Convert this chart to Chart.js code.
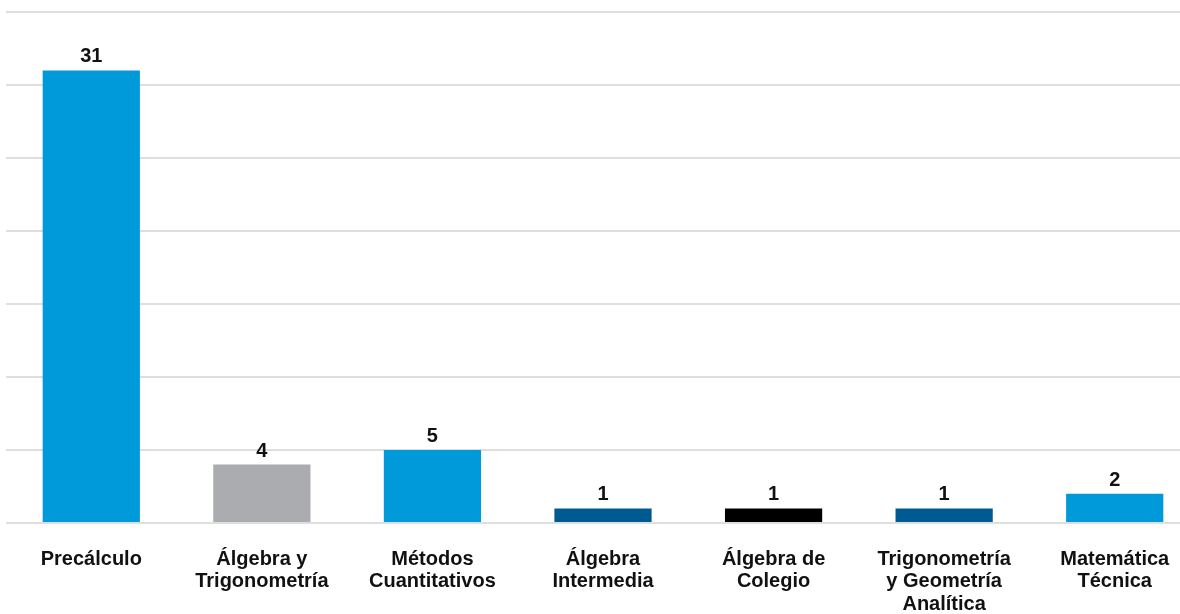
<!DOCTYPE html>
<html lang="es">
<head>
<meta charset="utf-8">
<title>Cursos de matemáticas</title>
<script src="https://cdn.jsdelivr.net/npm/chart.js@4/dist/chart.umd.min.js"></script>
<style>
    html, body {
        margin: 0;
        padding: 0;
        background: #ffffff;
        overflow: hidden;
    }
    .chart-wrap {
        position: relative;
        width: 1200px;
        height: 614px;
    }
</style>
</head>
<body>
<div class="chart-wrap">
    <canvas id="coursesChart"></canvas>
</div>
<script>
// ======================
// Data
// ======================
const courseLabels = [
    'Precálculo',
    ['Álgebra y', 'Trigonometría'],
    ['Métodos', 'Cuantitativos'],
    ['Álgebra', 'Intermedia'],
    ['Álgebra de', 'Colegio'],
    ['Trigonometría', 'y Geometría', 'Analítica'],
    ['Matemática', 'Técnica']
];
const courseCounts = [31, 4, 5, 1, 1, 1, 2];
const barColors = ['#009ADA', '#ABACAF', '#009ADA', '#005A92', '#000000', '#005A92', '#009ADA'];
const yTicks = { min: 0, max: 35, step: 5 };

const FONT = '"Liberation Sans", Arial, sans-serif';

// ======================
// Value labels above bars
// ======================
const valueLabels = {
    id: 'valueLabels',
    afterDatasetsDraw(chart) {
        const ctx = chart.ctx;
        const meta = chart.getDatasetMeta(0);
        ctx.save();
        ctx.font = 'bold 20px ' + FONT;
        ctx.fillStyle = '#111111';
        ctx.textAlign = 'center';
        ctx.textBaseline = 'alphabetic';
        meta.data.forEach(function (bar, i) {
            ctx.fillText(String(courseCounts[i]), bar.x, bar.y - 8);
        });
        ctx.restore();
    }
};

// ======================
// Chart
// ======================
const canvas = document.getElementById('coursesChart');

new Chart(canvas, {
    type: 'bar',
    data: {
        labels: courseLabels,
        datasets: [{
            data: courseCounts,
            backgroundColor: barColors,
            borderWidth: 0,
            barPercentage: 0.57,
            categoryPercentage: 1
        }]
    },
    options: {
        responsive: true,
        maintainAspectRatio: false,
        animation: false,
        layout: {
            padding: { left: 6, top: 12, right: 0, bottom: 0 }
        },
        scales: {
            x: {
                grid: { display: false, drawTicks: false },
                border: { display: false },
                afterFit(scale) {
                    scale.height = 91;
                },
                ticks: {
                    color: '#111111',
                    padding: 25,
                    maxRotation: 0,
                    autoSkip: false,
                    font: { size: 20, weight: 'bold', family: FONT, lineHeight: 1.12 }
                }
            },
            y: {
                min: yTicks.min,
                max: yTicks.max,
                border: { display: false },
                grid: {
                    color: '#dedede',
                    lineWidth: 2,
                    drawTicks: false
                },
                ticks: {
                    display: false,
                    stepSize: yTicks.step
                }
            }
        },
        plugins: {
            legend: { display: false },
            tooltip: { enabled: false }
        }
    },
    plugins: [valueLabels]
});
</script>
</body>
</html>
